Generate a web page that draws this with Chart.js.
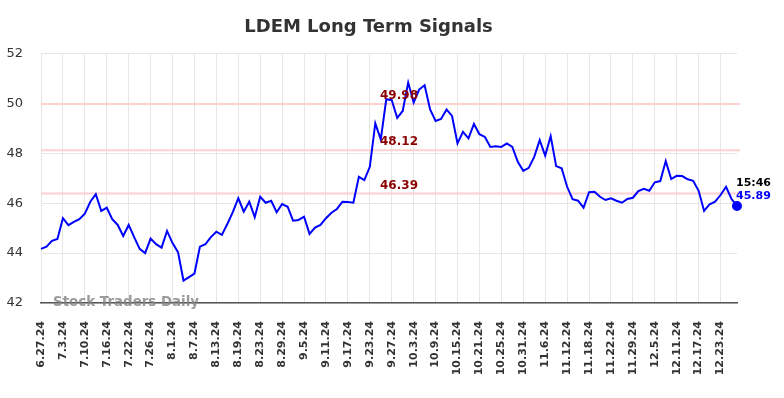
<!DOCTYPE html>
<html>
<head>
<meta charset="utf-8">
<script src="https://cdn.jsdelivr.net/npm/chart.js@4"></script>
<style>
  html, body { margin: 0; padding: 0; background: #fff; }
  #wrap { width: 784px; height: 398px; }
</style>
</head>
<body>
<div id="wrap"><canvas id="signalChart" width="784" height="398"></canvas></div>
<script>
// trading days shown on the x axis (every 4th one gets a label)
const dates = [
  '6.27.24', '6.28.24',
  '7.1.24', '7.2.24', '7.3.24', '7.5.24', '7.8.24', '7.9.24', '7.10.24', '7.11.24', '7.12.24',
  '7.15.24', '7.16.24', '7.17.24', '7.18.24', '7.19.24', '7.22.24', '7.23.24', '7.24.24', '7.25.24',
  '7.26.24', '7.29.24', '7.30.24', '7.31.24',
  '8.1.24', '8.2.24', '8.5.24', '8.6.24', '8.7.24', '8.8.24', '8.9.24', '8.12.24', '8.13.24', '8.14.24',
  '8.15.24', '8.16.24', '8.19.24', '8.20.24', '8.21.24', '8.22.24', '8.23.24', '8.26.24', '8.27.24',
  '8.28.24', '8.29.24', '8.30.24',
  '9.3.24', '9.4.24', '9.5.24', '9.6.24', '9.9.24', '9.10.24', '9.11.24', '9.12.24', '9.13.24',
  '9.16.24', '9.17.24', '9.18.24', '9.19.24', '9.20.24', '9.23.24', '9.24.24', '9.25.24', '9.26.24',
  '9.27.24', '9.30.24',
  '10.1.24', '10.2.24', '10.3.24', '10.4.24', '10.7.24', '10.8.24', '10.9.24', '10.10.24', '10.11.24',
  '10.14.24', '10.15.24', '10.16.24', '10.17.24', '10.18.24', '10.21.24', '10.22.24', '10.23.24',
  '10.24.24', '10.25.24', '10.28.24', '10.29.24', '10.30.24', '10.31.24',
  '11.1.24', '11.4.24', '11.5.24', '11.6.24', '11.7.24', '11.8.24', '11.11.24', '11.12.24', '11.13.24',
  '11.14.24', '11.15.24', '11.18.24', '11.19.24', '11.20.24', '11.21.24', '11.22.24', '11.25.24',
  '11.26.24', '11.27.24', '11.29.24',
  '12.2.24', '12.3.24', '12.4.24', '12.5.24', '12.6.24', '12.9.24', '12.10.24', '12.11.24', '12.12.24',
  '12.13.24', '12.16.24', '12.17.24', '12.18.24', '12.19.24', '12.20.24', '12.23.24', '12.24.24',
  '12.26.24', '12.27.24'
];

const prices = [
  44.17, 44.26, 44.49, 44.57, 45.40, 45.12, 45.25, 45.36, 45.58, 46.06, 46.36, 45.69, 45.82, 45.36, 45.13, 44.69, 45.13, 44.64, 44.17,
  44.00, 44.58, 44.36, 44.22, 44.89, 44.40, 44.04, 42.90, 43.04, 43.18, 44.26, 44.36, 44.64, 44.86, 44.73, 45.17, 45.64, 46.20,
  45.66, 46.06, 45.44, 46.26, 46.02, 46.10, 45.64, 45.97, 45.86, 45.30, 45.33, 45.46, 44.77, 45.02, 45.13, 45.40, 45.62, 45.77, 46.06,
  46.05, 46.02, 47.06, 46.93, 47.46, 49.20, 48.56, 50.17, 50.13, 49.42, 49.70, 50.84, 50.04, 50.56, 50.73, 49.76, 49.30,
  49.38, 49.76, 49.50, 48.40, 48.86, 48.60, 49.18, 48.77, 48.66, 48.26, 48.28, 48.26, 48.40, 48.26, 47.66, 47.30, 47.42, 47.86, 48.53, 47.91,
  48.69, 47.49, 47.40, 46.66, 46.16, 46.10, 45.82, 46.44, 46.46, 46.26, 46.13, 46.20, 46.10, 46.02, 46.17, 46.22, 46.49, 46.58,
  46.50, 46.84, 46.89, 47.69, 46.97, 47.10, 47.09, 46.96, 46.90, 46.50, 45.69, 45.96, 46.06, 46.33, 46.66, 46.17, 45.89
];

const signalLevels = [49.98, 48.12, 46.39];
const yTicks = [42, 44, 46, 48, 50, 52];
const lastTime = '15:46';

const FONT = "'DejaVu Sans', sans-serif";

// pink signal lines (behind the price) + their labels, watermark and last-price tag
const signalPlugin = {
  id: 'signals',
  beforeDatasetsDraw(chart) {
    const { ctx, chartArea, scales } = chart;
    ctx.save();
    ctx.strokeStyle = '#ffd0d0';
    ctx.lineWidth = 2;
    signalLevels.forEach(v => {
      const y = scales.y.getPixelForValue(v);
      ctx.beginPath();
      ctx.moveTo(chartArea.left, y);
      ctx.lineTo(chartArea.right + 3, y);
      ctx.stroke();
    });
    ctx.restore();
  },
  afterDatasetsDraw(chart) {
    const { ctx, scales } = chart;
    ctx.save();
    ctx.font = 'bold 12px ' + FONT;
    ctx.fillStyle = '#8b0000';
    ctx.textAlign = 'center';
    ctx.textBaseline = 'middle';
    signalLevels.forEach(v => {
      const y = scales.y.getPixelForValue(v);
      ctx.fillText(v.toFixed(2), 399, y - 8);
    });

    // watermark
    ctx.font = 'bold 13.4px ' + FONT;
    ctx.fillStyle = 'rgba(130,130,130,0.8)';
    ctx.textAlign = 'left';
    ctx.fillText('Stock Traders Daily', 53, scales.y.getPixelForValue(42));

    // last value tag
    const last = prices.length - 1;
    const px = scales.x.getPixelForValue(last);
    const py = scales.y.getPixelForValue(prices[last]);
    ctx.font = 'bold 11px ' + FONT;
    ctx.fillStyle = '#000';
    ctx.fillText(lastTime, px - 1, py - 23);
    ctx.fillStyle = '#0000ff';
    ctx.fillText(prices[last].toFixed(2), px - 1, py - 10);
    ctx.restore();
  }
};

const ctx = document.getElementById('signalChart').getContext('2d');
new Chart(ctx, {
  type: 'line',
  data: {
    labels: dates,
    datasets: [{
      label: 'LDEM',
      data: prices,
      borderColor: '#0000ff',
      borderWidth: 2,
      tension: 0,
      fill: false,
      pointRadius: prices.map((p, i) => i === prices.length - 1 ? 4 : 0),
      pointBackgroundColor: '#0000ff',
      pointBorderColor: '#0000ff'
    }]
  },
  options: {
    responsive: false,
    animation: false,
    devicePixelRatio: 1,
    layout: { padding: { left: 0, right: 47, top: 5, bottom: 0 } },
    plugins: {
      legend: { display: false },
      tooltip: { enabled: false },
      title: {
        display: true,
        text: 'LDEM Long Term Signals',
        color: '#333',
        font: { family: FONT, size: 18, weight: 'bold' },
        padding: { top: 12, bottom: 15 }
      }
    },
    scales: {
      x: {
        grid: { color: '#e6e6e6', drawTicks: false },
        border: { color: '#555', width: 1.5 },
        afterFit: axis => { axis.height = 95; },
        ticks: {
          autoSkip: false,
          maxRotation: 90,
          minRotation: 90,
          padding: 18,
          color: '#333',
          font: { family: FONT, size: 11, weight: 'bold' },
          callback: (val, i) => i % 4 === 0 ? dates[i] : null
        }
      },
      y: {
        min: yTicks[0],
        max: yTicks[yTicks.length - 1],
        grid: { color: '#e6e6e6', drawTicks: false },
        border: { display: false },
        afterBuildTicks: axis => { axis.ticks = yTicks.map(v => ({ value: v })); },
        afterFit: axis => { axis.width = 41; },
        ticks: {
          padding: 18,
          color: '#333',
          font: { family: FONT, size: 13 }
        }
      }
    }
  },
  plugins: [signalPlugin]
});
</script>
</body>
</html>
